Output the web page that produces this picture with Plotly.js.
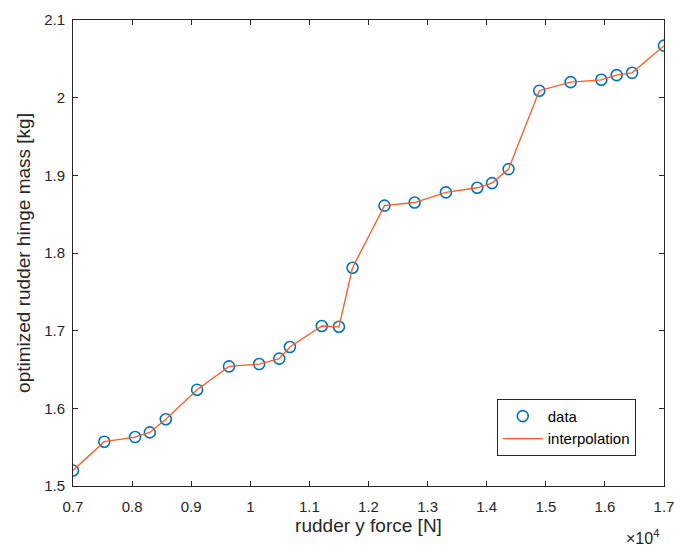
<!DOCTYPE html>
<html>
<head>
<meta charset="utf-8">
<script src="https://cdn.plot.ly/plotly-3.0.1.min.js"></script>
<style>html,body{margin:0;padding:0;background:#fff;}#chart{width:674px;height:548px;}</style>
</head>
<body>
<div id="chart"></div>
<script>
// rudder y force, in units of 1e4 N
const force = [0.700, 0.753, 0.805, 0.830, 0.857, 0.910, 0.964, 1.015, 1.049, 1.067, 1.121, 1.150, 1.173,
               1.227, 1.278, 1.331, 1.384, 1.409, 1.437, 1.489, 1.542, 1.594, 1.620, 1.646, 1.700];
// optimized rudder hinge mass [kg]
const mass = [1.520, 1.557, 1.563, 1.569, 1.586, 1.624, 1.654, 1.657, 1.664, 1.679, 1.706, 1.705, 1.781,
              1.861, 1.865, 1.878, 1.884, 1.890, 1.908, 2.009, 2.020, 2.023, 2.029, 2.032, 2.067];
const xTicks = [0.7, 0.8, 0.9, 1, 1.1, 1.2, 1.3, 1.4, 1.5, 1.6, 1.7];
const yTicks = [1.5, 1.6, 1.7, 1.8, 1.9, 2, 2.1];

const font = 'Liberation Sans, Arial, sans-serif';
const txt = '#262626';
const traces = [
  {x: force, y: mass, mode: 'markers', name: 'data', type: 'scatter',
   marker: {symbol: 'circle-open', size: 11, color: '#0072BD', line: {width: 1.6, color: '#0072BD'}}},
  {x: force, y: mass, mode: 'lines', name: 'interpolation', type: 'scatter',
   line: {color: '#FF5A1F', width: 1.3}}
];
const axisCommon = {
  showgrid: false, zeroline: false, showline: true, linecolor: txt, linewidth: 1,
  mirror: 'ticks', ticks: 'inside', ticklen: 5, tickcolor: txt, tickwidth: 1,
  tickfont: {family: font, size: 15, color: txt},
  ticklabeloverflow: 'allow'
};
const layout = {
  width: 674, height: 548,
  margin: {l: 73, r: 10, t: 20, b: 62},
  paper_bgcolor: '#fff', plot_bgcolor: '#fff',
  font: {family: font, color: txt},
  showlegend: true,
  xaxis: Object.assign({}, axisCommon, {
    range: [0.7, 1.7], tickvals: xTicks, ticktext: xTicks.map(String),
    ticklabelstandoff: 7,
    title: {text: 'rudder y force [N]', font: {family: font, size: 19, color: txt}, standoff: 4}
  }),
  yaxis: Object.assign({}, axisCommon, {
    range: [1.5, 2.1], tickvals: yTicks, ticktext: yTicks.map(String),
    ticklabelstandoff: 4,
    title: {text: 'optimized rudder hinge mass [kg]', font: {family: font, size: 19, color: txt}, standoff: 8}
  }),
  legend: {
    x: 0.717, y: 0.187, xanchor: 'left', yanchor: 'top',
    bgcolor: '#fff', bordercolor: txt, borderwidth: 1,
    font: {family: font, size: 15, color: '#000'},
    itemwidth: 40,
    tracegroupgap: 0
  },
  annotations: [{
    xref: 'paper', yref: 'paper', x: 0.995, y: -0.11, xanchor: 'right', yanchor: 'middle',
    text: '×10<sup>4</sup>', showarrow: false, font: {family: font, size: 16, color: txt}
  }]
};
Plotly.newPlot('chart', traces, layout, {displayModeBar: false, staticPlot: true});
</script>
</body>
</html>
